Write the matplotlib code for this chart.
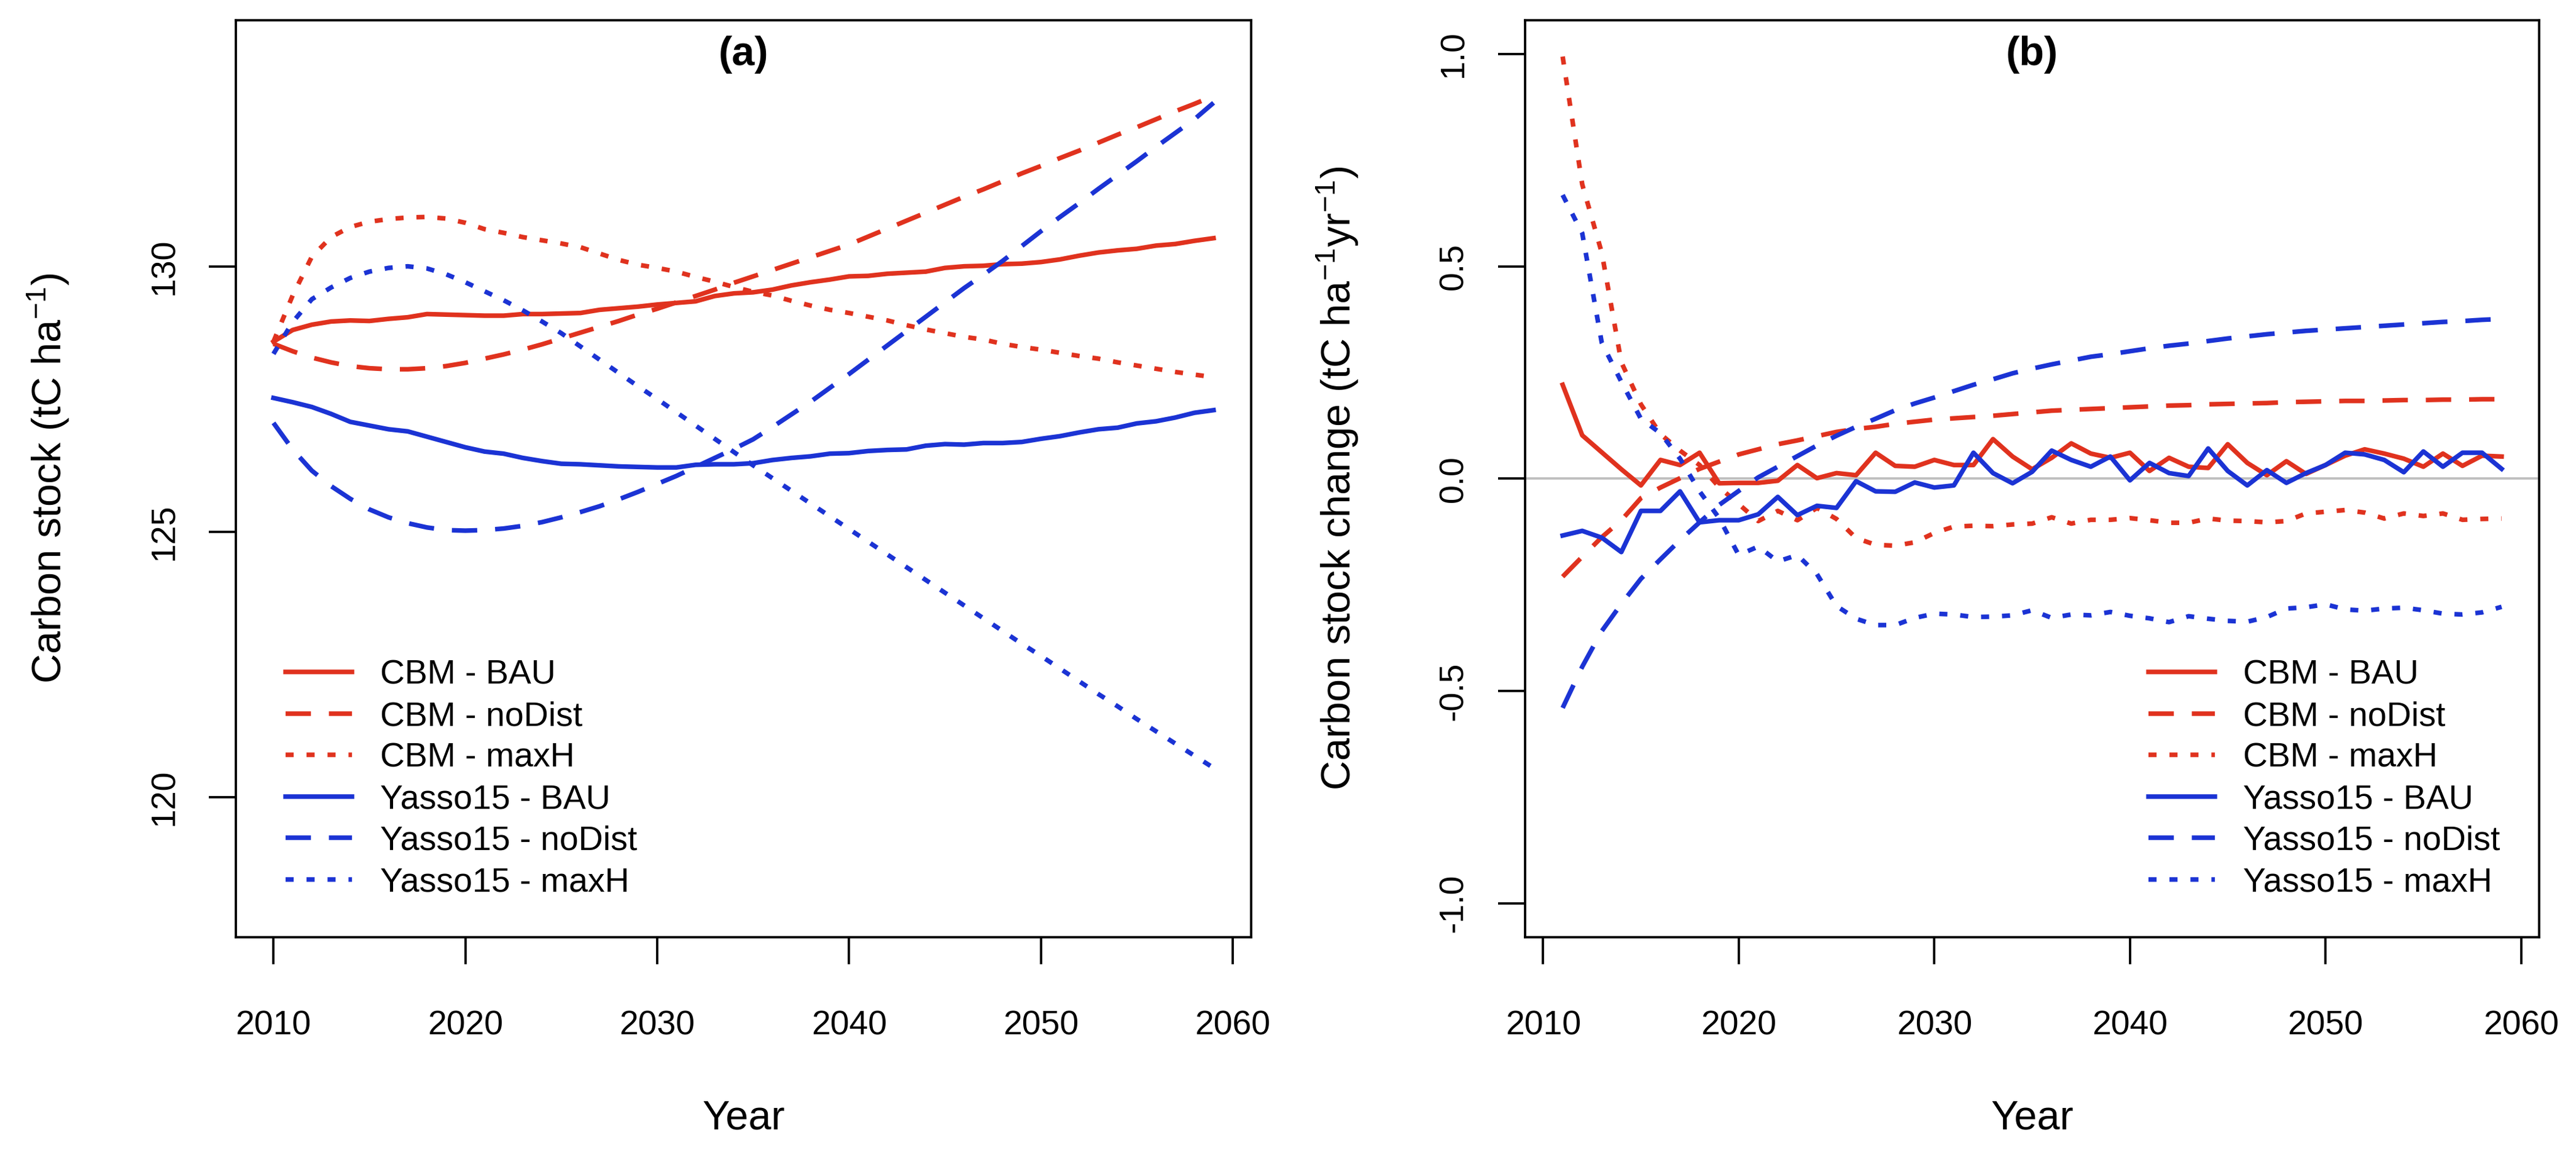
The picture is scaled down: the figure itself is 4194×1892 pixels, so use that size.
import matplotlib
matplotlib.use("Agg")
import matplotlib.pyplot as plt

plt.rcParams['font.family'] = ['Liberation Sans', 'DejaVu Sans']
plt.rcParams['mathtext.fontset'] = 'custom'
plt.rcParams['mathtext.rm'] = 'Liberation Sans'
plt.rcParams['mathtext.it'] = 'Liberation Sans:italic'
plt.rcParams['axes.unicode_minus'] = False

# --- anos ---
anos_estoque = list(range(2010, 2060))
anos_variacao = list(range(2011, 2060))

# --- (a) estoque de carbono (tC/ha), 2010-2059 ---
cbm_bau = [128.58, 128.80, 128.90, 128.96, 128.98, 128.97, 129.01, 129.04, 129.10, 129.09,
           129.08, 129.07, 129.07, 129.10, 129.10, 129.11, 129.12, 129.18, 129.21, 129.24,
           129.28, 129.31, 129.34, 129.44, 129.49, 129.51, 129.56, 129.64, 129.70, 129.75,
           129.81, 129.82, 129.86, 129.88, 129.90, 129.97, 130.00, 130.01, 130.04, 130.05,
           130.08, 130.13, 130.20, 130.26, 130.30, 130.33, 130.39, 130.42, 130.48, 130.53]
cbm_nodist = [128.54, 128.40, 128.28, 128.19, 128.12, 128.08, 128.06, 128.06, 128.08, 128.12,
              128.18, 128.26, 128.34, 128.43, 128.53, 128.64, 128.75, 128.86, 128.97, 129.09,
              129.20, 129.32, 129.44, 129.56, 129.69, 129.81, 129.93, 130.05, 130.17, 130.29,
              130.41, 130.56, 130.71, 130.86, 131.01, 131.16, 131.31, 131.45, 131.60, 131.75,
              131.89, 132.04, 132.18, 132.33, 132.48, 132.62, 132.77, 132.92, 133.06, 133.21]
cbm_maxh = [128.58, 129.45, 130.18, 130.55, 130.74, 130.84, 130.89, 130.92, 130.93, 130.90,
            130.82, 130.70, 130.63, 130.55, 130.49, 130.43, 130.36, 130.24, 130.12, 130.03,
            129.97, 129.90, 129.80, 129.71, 129.61, 129.52, 129.45, 129.35, 129.26, 129.18,
            129.12, 129.05, 128.98, 128.89, 128.81, 128.74, 128.67, 128.62, 128.54, 128.48,
            128.43, 128.37, 128.31, 128.26, 128.19, 128.13, 128.07, 128.01, 127.96, 127.91]
yasso_bau = [127.52, 127.44, 127.35, 127.22, 127.07, 127.00, 126.93, 126.89, 126.79, 126.69,
             126.59, 126.51, 126.47, 126.39, 126.33, 126.28, 126.27, 126.25, 126.23, 126.22,
             126.21, 126.21, 126.26, 126.27, 126.27, 126.29, 126.35, 126.39, 126.42, 126.47,
             126.48, 126.52, 126.54, 126.55, 126.62, 126.65, 126.64, 126.67, 126.67, 126.69,
             126.75, 126.80, 126.87, 126.93, 126.96, 127.04, 127.08, 127.15, 127.24, 127.29]
yasso_nodist = [127.05, 126.55, 126.15, 125.86, 125.62, 125.42, 125.27, 125.16, 125.08, 125.03,
                125.02, 125.03, 125.06, 125.11, 125.18, 125.27, 125.37, 125.48, 125.61, 125.75,
                125.90, 126.05, 126.22, 126.39, 126.56, 126.74, 126.97, 127.21, 127.45, 127.71,
                127.97, 128.24, 128.51, 128.78, 129.05, 129.32, 129.59, 129.84, 130.10, 130.38,
                130.66, 130.93, 131.19, 131.46, 131.72, 131.98, 132.25, 132.51, 132.77, 133.08]
yasso_maxh = [128.35, 128.95, 129.38, 129.60, 129.78, 129.90, 129.97, 130.00, 129.96, 129.85,
              129.70, 129.53, 129.36, 129.17, 128.96, 128.74, 128.49, 128.24, 127.99, 127.74,
              127.50, 127.25, 127.00, 126.75, 126.50, 126.25, 126.01, 125.77, 125.53, 125.29,
              125.05, 124.81, 124.57, 124.33, 124.09, 123.85, 123.61, 123.37, 123.13, 122.89,
              122.66, 122.42, 122.18, 121.94, 121.71, 121.47, 121.24, 121.01, 120.78, 120.55]

# --- (b) variacao anual do estoque (tC/ha/ano), 2011-2059 ---
d_cbm_bau = [0.221, 0.102, 0.062, 0.022, -0.016, 0.044, 0.032, 0.061, -0.011, -0.010,
             -0.010, -0.005, 0.032, 0.001, 0.013, 0.008, 0.061, 0.030, 0.028, 0.044,
             0.032, 0.032, 0.093, 0.052, 0.022, 0.049, 0.083, 0.059, 0.049, 0.061,
             0.018, 0.049, 0.028, 0.025, 0.081, 0.037, 0.008, 0.041, 0.011, 0.032,
             0.054, 0.069, 0.059, 0.047, 0.028, 0.059, 0.030, 0.054, 0.052]
d_cbm_nodist = [-0.231, -0.184, -0.138, -0.098, -0.046, -0.021, 0.001, 0.023, 0.040, 0.057,
                0.069, 0.081, 0.090, 0.100, 0.110, 0.117, 0.122, 0.129, 0.134, 0.139,
                0.142, 0.145, 0.148, 0.152, 0.156, 0.160, 0.162, 0.164, 0.166, 0.168,
                0.170, 0.172, 0.173, 0.175, 0.176, 0.177, 0.178, 0.180, 0.181, 0.182,
                0.183, 0.183, 0.184, 0.185, 0.185, 0.186, 0.186, 0.187, 0.187]
d_cbm_maxh = [0.994, 0.693, 0.532, 0.274, 0.175, 0.105, 0.066, 0.032, -0.020, -0.060,
              -0.100, -0.076, -0.098, -0.069, -0.095, -0.140, -0.156, -0.158, -0.150, -0.128,
              -0.113, -0.111, -0.112, -0.108, -0.106, -0.091, -0.106, -0.097, -0.097, -0.093,
              -0.098, -0.104, -0.104, -0.094, -0.099, -0.100, -0.103, -0.100, -0.082, -0.078,
              -0.074, -0.080, -0.094, -0.082, -0.088, -0.082, -0.097, -0.095, -0.094]
d_yasso_bau = [-0.134, -0.123, -0.139, -0.173, -0.076, -0.076, -0.030, -0.103, -0.098, -0.098,
               -0.084, -0.043, -0.086, -0.064, -0.069, -0.006, -0.030, -0.031, -0.009, -0.021,
               -0.016, 0.061, 0.013, -0.011, 0.016, 0.066, 0.044, 0.028, 0.052, -0.004,
               0.037, 0.013, 0.006, 0.071, 0.018, -0.016, 0.020, -0.010, 0.013, 0.032,
               0.061, 0.057, 0.044, 0.015, 0.064, 0.028, 0.061, 0.061, 0.023]
d_yasso_nodist = [-0.540, -0.443, -0.359, -0.295, -0.236, -0.190, -0.145, -0.103, -0.062, -0.029,
                  0.003, 0.028, 0.053, 0.078, 0.101, 0.122, 0.141, 0.161, 0.177, 0.191,
                  0.206, 0.221, 0.234, 0.248, 0.259, 0.269, 0.278, 0.287, 0.293, 0.300,
                  0.307, 0.313, 0.318, 0.324, 0.330, 0.335, 0.340, 0.344, 0.348, 0.351,
                  0.354, 0.357, 0.360, 0.363, 0.366, 0.369, 0.371, 0.374, 0.376]
d_yasso_maxh = [0.668, 0.578, 0.320, 0.228, 0.141, 0.107, 0.047, -0.030, -0.093, -0.180,
                -0.160, -0.195, -0.180, -0.225, -0.300, -0.330, -0.345, -0.345, -0.328, -0.318,
                -0.320, -0.326, -0.325, -0.322, -0.310, -0.328, -0.320, -0.322, -0.314, -0.323,
                -0.329, -0.338, -0.324, -0.330, -0.335, -0.337, -0.326, -0.306, -0.303, -0.296,
                -0.308, -0.311, -0.306, -0.304, -0.310, -0.318, -0.320, -0.315, -0.302]

rotulos = ['CBM - BAU', 'CBM - noDist', 'CBM - maxH',
           'Yasso15 - BAU', 'Yasso15 - noDist', 'Yasso15 - maxH']

VERMELHO = '#e0321e'
AZUL = '#1b33d4'
LW = 1.8
# tracejado (~41 px on / 29 px off) e pontilhado (~13 px on / 21 px off), em unidades de LW
TRACOS = {'BAU': '-', 'noDist': (0, (5.5, 3.9)), 'maxH': (0, (1.75, 2.8))}


def desenhar_series(ax, anos, series):
    cores = [VERMELHO] * 3 + [AZUL] * 3
    tipos = ['BAU', 'noDist', 'maxH'] * 2
    for valores, cor, tipo, nome in zip(series, cores, tipos, rotulos):
        ax.plot(anos, valores, color=cor, linestyle=TRACOS[tipo], linewidth=LW,
                label=nome, solid_joinstyle='round', dash_capstyle='butt')


def estilo_eixos(ax, titulo, ylabel):
    for s in ax.spines.values():
        s.set_linewidth(0.9)
    ax.set_xticks([2010, 2020, 2030, 2040, 2050, 2060])
    ax.tick_params(axis='both', direction='out', length=10.5, width=0.9, labelsize=13.3)
    ax.tick_params(axis='x', pad=18)
    ax.tick_params(axis='y', pad=11)
    for t in ax.get_yticklabels():
        t.set_rotation(90)
        t.set_va('center')
        t.set_ha('right')
    ax.text(0.5, 0.962, titulo, transform=ax.transAxes, ha='center', va='center',
            fontsize=16, fontweight='bold')
    ax.set_xlabel('Year', fontsize=16, va='center')
    ax.xaxis.set_label_coords(0.5, -0.198)
    ax.set_ylabel(ylabel, fontsize=16, va='center')
    ax.yaxis.set_label_coords(-0.185, 0.5)


fig = plt.figure(figsize=(4194 / 300, 1892 / 300), dpi=300)
ax_a = fig.add_axes([0.09156, 0.19345, 0.39414, 0.78932])
ax_b = fig.add_axes([0.59204, 0.19345, 0.39366, 0.78932])

# --- (a) ---
desenhar_series(ax_a, anos_estoque,
                [cbm_bau, cbm_nodist, cbm_maxh, yasso_bau, yasso_nodist, yasso_maxh])
ax_a.set_xlim(2008.04, 2060.96)
ax_a.set_ylim(117.36, 134.64)
ax_a.set_yticks([120, 125, 130])
estilo_eixos(ax_a, '(a)', 'Carbon stock (tC ha$^{-1}$)')

# --- (b) ---
ax_b.axhline(0, color='#bebebe', linewidth=0.9, zorder=1)
desenhar_series(ax_b, anos_variacao,
                [d_cbm_bau, d_cbm_nodist, d_cbm_maxh, d_yasso_bau, d_yasso_nodist, d_yasso_maxh])
ax_b.set_xlim(2009.08, 2060.92)
ax_b.set_ylim(-1.08, 1.08)
ax_b.set_yticks([-1.0, -0.5, 0.0, 0.5, 1.0])
ax_b.set_yticklabels(['-1.0', '-0.5', '0.0', '0.5', '1.0'])
estilo_eixos(ax_b, '(b)', 'Carbon stock change (tC ha$^{-1}$yr$^{-1}$)')

for ax, x0 in [(ax_a, 0.049), (ax_b, 0.6148)]:
    ax.legend(loc='upper left', bbox_to_anchor=(x0, 0.303), frameon=False, fontsize=13.3,
              borderpad=0, borderaxespad=0, handlelength=1.95, handletextpad=0.83,
              labelspacing=0.28)

fig.savefig('out.png', dpi=300)
